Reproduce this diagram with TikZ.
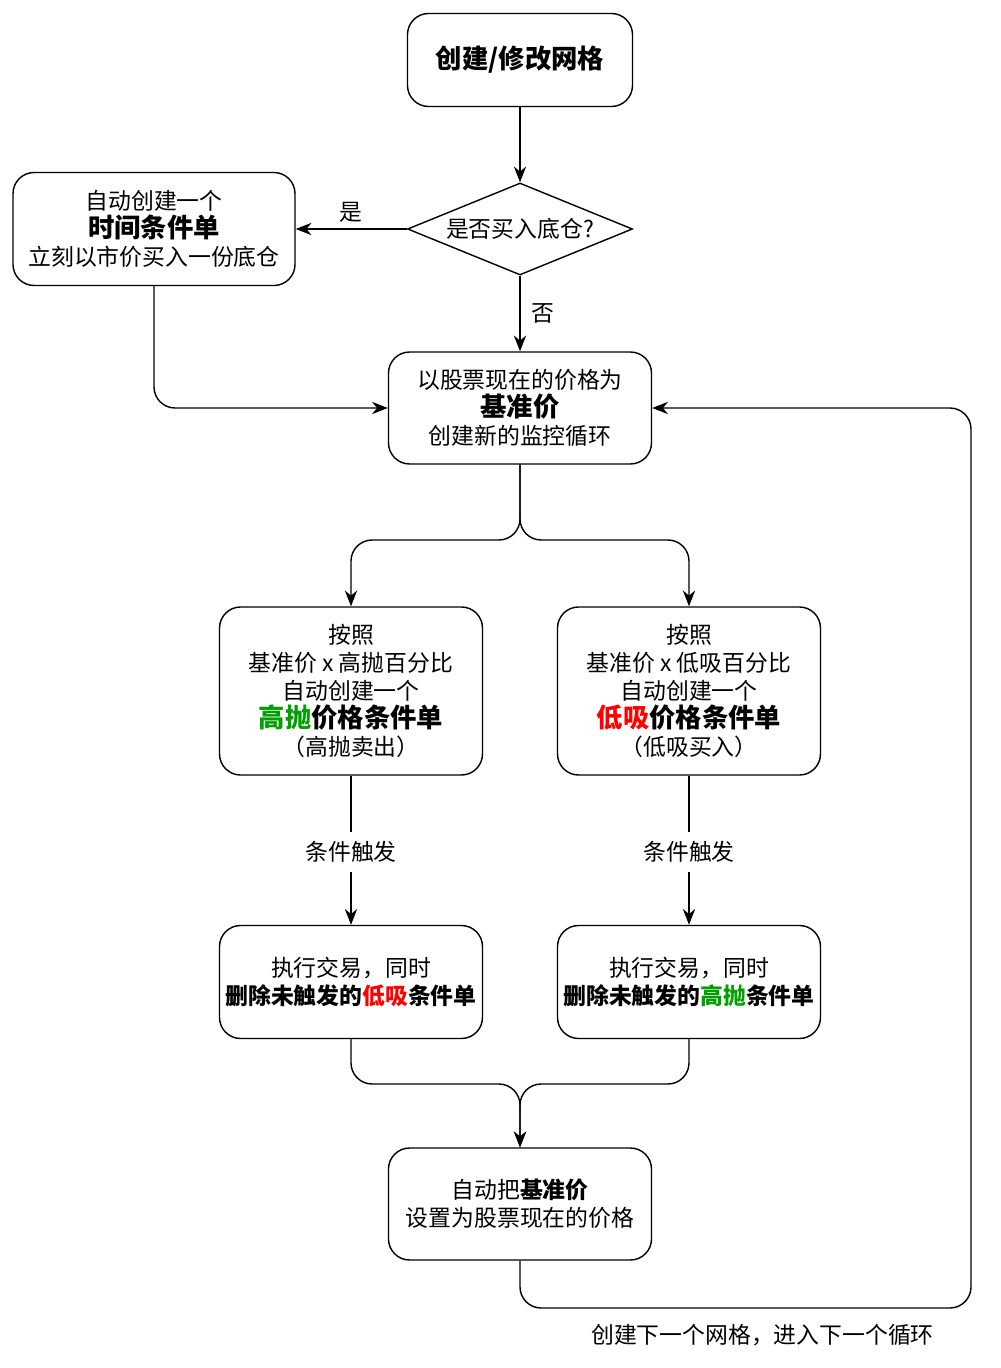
\documentclass[tikz,border=0pt]{standalone}
\usepackage{fontspec}
\setmainfont{Noto Sans CJK SC}
\usetikzlibrary{shapes.geometric,arrows.meta}
\definecolor{gg}{RGB}{0,160,0}
\newcommand{\bigb}[1]{{\bfseries\fontsize{15}{16}\selectfont #1}}
\begin{document}
\begin{tikzpicture}[x=0.02cm,y=-0.02cm,
  box/.style={draw,thick,rounded corners=12pt,align=center,font=\fontsize{13}{16}\selectfont,inner sep=0pt},
  con/.style={thick,-{Stealth[length=9pt,width=7pt]},rounded corners=12pt},
  lbl/.style={font=\fontsize{13}{16}\selectfont},
  bb/.style={font=\fontsize{15}{17}\selectfont\bfseries}]
\useasboundingbox (0,0) rectangle (1000,1368);
\node[box,minimum width=225*0.02cm,minimum height=93*0.02cm] (top) at (520,60) {\bigb{创建/修改网格}};
\node[draw,thick,diamond,aspect=2.45,minimum width=225*0.02cm,minimum height=92*0.02cm,inner sep=0pt,font=\fontsize{13}{16}\selectfont] (dia) at (520,229) {是否买入底仓?};
\node[box,minimum width=282*0.02cm,minimum height=113*0.02cm] (lb) at (154,229) {自动创建一个\\\bigb{时间条件单}\\立刻以市价买入一份底仓};
\node[box,minimum width=263*0.02cm,minimum height=112*0.02cm] (base) at (520,408) {以股票现在的价格为\\\bigb{基准价}\\创建新的监控循环};
\node[box,minimum width=263*0.02cm,minimum height=168*0.02cm] (lm) at (351,691) {按照\\基准价 x 高抛百分比\\自动创建一个\\\bigb{\textcolor{gg}{高抛}价格条件单}\\（高抛卖出）};
\node[box,minimum width=263*0.02cm,minimum height=168*0.02cm] (rm) at (689,691) {按照\\基准价 x 低吸百分比\\自动创建一个\\\bigb{\textcolor{red}{低吸}价格条件单}\\（低吸买入）};
\node[box,minimum width=263*0.02cm,minimum height=113*0.02cm] (le) at (351,982) {执行交易，同时\\{\bfseries 删除未触发的\textcolor{red}{低吸}条件单}};
\node[box,minimum width=263*0.02cm,minimum height=113*0.02cm] (re) at (689,982) {执行交易，同时\\{\bfseries 删除未触发的\textcolor{gg}{高抛}条件单}};
\node[box,minimum width=263*0.02cm,minimum height=112*0.02cm] (bot) at (520,1204) {自动把{\bfseries 基准价}\\设置为股票现在的价格};
\draw[con] (top) -- (dia);
\draw[con] (dia) -- node[lbl,above]{是} (lb);
\draw[con] (dia) -- node[lbl,right,xshift=3pt]{否} (base);
\draw[con] (lb.south) |- (base.west);
\draw[con] (base.south) -- (520,540) -| (lm.north);
\draw[con] (base.south) -- (520,540) -| (rm.north);
\draw[thick] (lm.south) -- (351,832);
\node[lbl,fill=white] (t1) at (351,852) {条件触发};
\draw[con] (351,872) -- (le.north);
\draw[thick] (rm.south) -- (689,832);
\node[lbl,fill=white] (t2) at (689,852) {条件触发};
\draw[con] (689,872) -- (re.north);
\draw[con] (le.south) |- (520,1084) -- (bot.north);
\draw[con] (re.south) |- (520,1084) -- (bot.north);
\draw[con] (bot.south) |- (971,1308) |- (base.east);
\node[lbl,anchor=west] (nt) at (585,1335) {创建下一个网格，进入下一个循环};
\end{tikzpicture}
\end{document}
